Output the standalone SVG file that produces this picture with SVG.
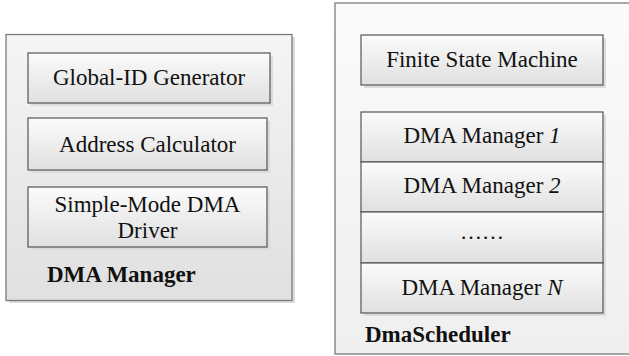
<svg xmlns="http://www.w3.org/2000/svg" width="629" height="356" viewBox="0 0 629 356">
<defs>
<linearGradient id="gOutL" x1="0" y1="0" x2="0" y2="1"><stop offset="0" stop-color="#f5f5f5"/><stop offset="1" stop-color="#e0e0e0"/></linearGradient>
<linearGradient id="gOutR" x1="0" y1="0" x2="0" y2="1"><stop offset="0" stop-color="#fbfbfb"/><stop offset="1" stop-color="#efefef"/></linearGradient>
<linearGradient id="gIn" x1="0" y1="0" x2="0" y2="1"><stop offset="0" stop-color="#fbfbfb"/><stop offset="1" stop-color="#e0e0e0"/></linearGradient>
<style>
.outer{stroke:#7a7a7a;stroke-width:1.3}
.shadow{fill:#dcdcdc}
.box{fill:url(#gIn);stroke:#555;stroke-width:1.2}
</style>
</defs>
<rect width="629" height="356" fill="#ffffff"/>

<g id="dma-manager">
<rect class="shadow" x="9" y="37" width="286" height="266"/>
<rect class="outer" x="6" y="34.5" width="286" height="266" fill="url(#gOutL)"/>
<g id="global-id">
<rect class="shadow" x="31" y="56" width="242" height="50"/>
<rect class="box" x="28" y="53" width="242" height="50"/>
<text x="149" y="85" font-family="'Liberation Serif'" font-size="23" fill="#111" text-anchor="middle">Global-ID Generator</text>
</g>
<g id="address-calc">
<rect class="shadow" x="31" y="121" width="239" height="52"/>
<rect class="box" x="28" y="118" width="239" height="52"/>
<text x="147.5" y="152" font-family="'Liberation Serif'" font-size="23" fill="#111" text-anchor="middle">Address Calculator</text>
</g>
<g id="simple-mode">
<rect class="shadow" x="31" y="190" width="239" height="60"/>
<rect class="box" x="28" y="187" width="239" height="60"/>
<text x="147.5" y="212" font-family="'Liberation Serif'" font-size="23" fill="#111" text-anchor="middle">Simple-Mode DMA</text>
<text x="147.5" y="238" font-family="'Liberation Serif'" font-size="23" fill="#111" text-anchor="middle">Driver</text>
</g>
<text x="47" y="282" font-family="'Liberation Serif'" font-size="23" font-weight="bold" fill="#111">DMA Manager</text>
</g>

<g id="dma-scheduler">
<rect class="outer" x="335" y="3" width="300" height="351" fill="url(#gOutR)"/>
<g id="fsm">
<rect class="shadow" x="364" y="38" width="242" height="50"/>
<rect class="box" x="361" y="35" width="242" height="50"/>
<text x="482" y="67" font-family="'Liberation Serif'" font-size="23" fill="#111" text-anchor="middle">Finite State Machine</text>
</g>
<rect class="shadow" x="364" y="115" width="242" height="201"/>
<g id="dm1">
<rect class="box" x="361" y="112" width="242" height="50"/>
<text x="482" y="143" font-family="'Liberation Serif'" font-size="23" fill="#111" text-anchor="middle">DMA Manager <tspan font-style="italic">1</tspan></text>
</g>
<g id="dm2">
<rect class="box" x="361" y="162" width="242" height="50"/>
<text x="482" y="193" font-family="'Liberation Serif'" font-size="23" fill="#111" text-anchor="middle">DMA Manager <tspan font-style="italic">2</tspan></text>
</g>
<g id="dots">
<rect class="box" x="361" y="212" width="242" height="51"/>
<text x="482" y="239" font-family="'Liberation Serif'" font-size="22" fill="#111" text-anchor="middle">……</text>
</g>
<g id="dmN">
<rect class="box" x="361" y="263" width="242" height="50"/>
<text x="482" y="295" font-family="'Liberation Serif'" font-size="23" fill="#111" text-anchor="middle">DMA Manager <tspan font-style="italic">N</tspan></text>
</g>
<text x="365" y="342" font-family="'Liberation Serif'" font-size="23" font-weight="bold" fill="#111">DmaScheduler</text>
</g>

<g id="connectors"></g>
</svg>
